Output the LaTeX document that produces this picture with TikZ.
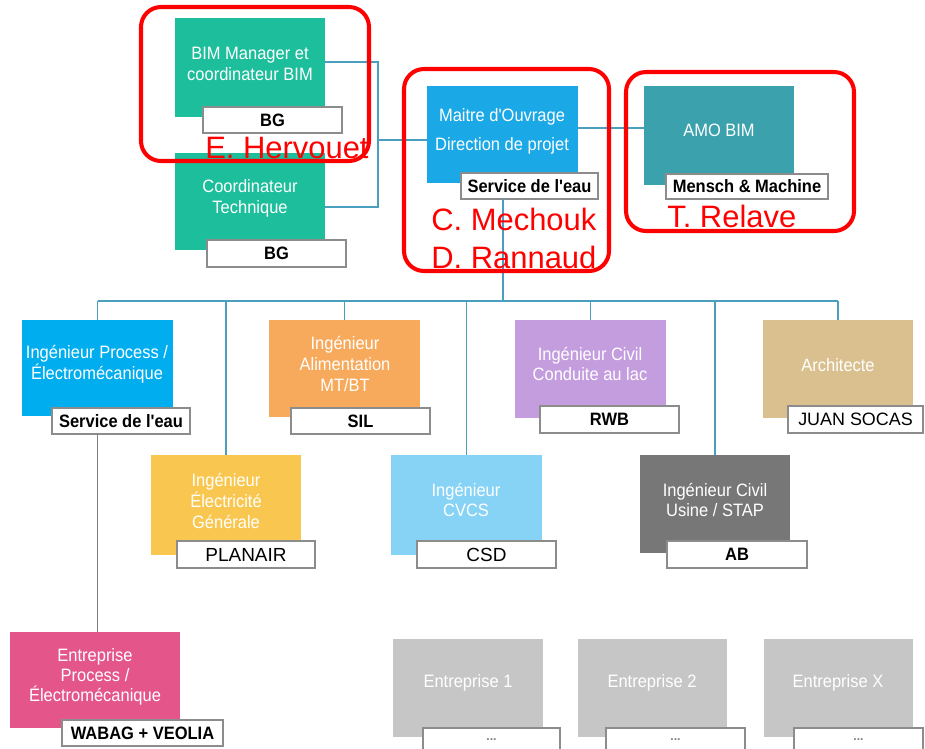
\documentclass[tikz,border=0pt]{standalone}
\usepackage{fontspec}
\setmainfont{Liberation Sans}
\newfontfamily\narrowf[FakeStretch=0.92]{Liberation Sans}
\usetikzlibrary{calc}
\definecolor{cbim}{RGB}{29,190,155}
\definecolor{cmo}{RGB}{26,169,230}
\definecolor{camo}{RGB}{59,161,173}
\definecolor{cproc}{RGB}{0,173,238}
\definecolor{calim}{RGB}{248,170,92}
\definecolor{celec}{RGB}{249,199,79}
\definecolor{ccvcs}{RGB}{134,211,245}
\definecolor{ccond}{RGB}{196,157,223}
\definecolor{cusine}{RGB}{119,119,119}
\definecolor{carch}{RGB}{219,192,143}
\definecolor{cep}{RGB}{228,86,138}
\definecolor{cent}{RGB}{198,198,198}
\definecolor{connblue}{RGB}{74,159,191}
\definecolor{lblgray}{RGB}{140,140,140}
\definecolor{redc}{RGB}{255,0,0}
\newcommand\orgbox[6]{\node[boxst, fill=#6, minimum width={(#3-#2)*0.02cm}, minimum height={(#5-#4)*0.02cm}] (#1) at (#2,#4) {};}
\newcommand\orglbl[7]{\node[#6, minimum width={(#3-#2)*0.02cm}, minimum height={(#5-#4)*0.02cm}] (#1) at (#2,#4) {#7};}
\tikzset{
  boxst/.style={inner sep=0pt, outer sep=0pt, anchor=north west, draw=none},
  lblst/.style={inner sep=0pt, outer sep=0pt, anchor=north west, fill=white, draw=lblgray, line width=0.7pt, text=black},
  lblb/.style={lblst, font=\narrowf\bfseries\fontsize{10.2}{12}\selectfont},
  lblr/.style={lblst, font=\fontsize{10.8}{12}\selectfont},
  lbls/.style={lblst, font=\fontsize{10.2}{12}\selectfont},
  lbld/.style={lblst, text=gray, font=\bfseries\fontsize{7}{8}\selectfont},
  txt/.style={text=white, align=center, font=\narrowf\fontsize{10.2}{11.9}\selectfont, inner sep=0pt},
  conn/.style={draw=connblue, line width=1pt},
  grayline/.style={draw=gray, line width=0.9pt},
  redframe/.style={draw=redc, line width=2.3pt, rounded corners=0.4cm, inner sep=0pt, outer sep=0pt, anchor=north west},
  redtxt/.style={text=redc, font=\fontsize{17.6}{20}\selectfont, anchor=base west, inner sep=0pt},
}
\begin{document}
\begin{tikzpicture}[x=0.02cm, y=-0.02cm]
\useasboundingbox (0,0) rectangle (925,748);
% boxes
\orgbox{bim}{175}{325}{18}{117}{cbim}
\orgbox{coord}{175}{325}{153}{250}{cbim}
\orgbox{mo}{427}{578}{86}{183}{cmo}
\orgbox{amo}{644}{794}{86}{185}{camo}
\orgbox{proc}{22}{173}{320}{416}{cproc}
\orgbox{alim}{269}{420}{320}{417}{calim}
\orgbox{cond}{515}{666}{320}{418}{ccond}
\orgbox{arch}{763}{913}{320}{418}{carch}
\orgbox{elec}{151}{301}{455}{555}{celec}
\orgbox{cvcs}{391}{542}{455}{555}{ccvcs}
\orgbox{usine}{640}{790}{455}{553}{cusine}
\orgbox{ep}{10}{180}{632}{728}{cep}
\orgbox{e1}{393}{543}{639}{737}{cent}
\orgbox{e2}{578}{727}{639}{737}{cent}
\orgbox{ex}{764}{913}{639}{737}{cent}
% box texts
\node[txt] (tbim) at (250,64) {BIM Manager et\\coordinateur BIM};
\node[txt] (tcoord) at (250,198) {Coordinateur\\Technique};
\node[txt, font=\narrowf\fontsize{10.2}{16.5}\selectfont] (tmo) at (502,131.5) {Maitre d'Ouvrage\\Direction de projet};
\node[txt] (tamo) at (719,130) {AMO BIM};
\node[txt, font=\narrowf\fontsize{10.2}{10.9}\selectfont] (tproc) at (97,364) {Ingénieur Process /\\Électromécanique};
\node[txt] (talim) at (345,364) {Ingénieur\\Alimentation\\MT/BT};
\node[txt] (tcond) at (590,364) {Ingénieur Civil\\Conduite au lac};
\node[txt] (tarch) at (838,365) {Architecte};
\node[txt] (telec) at (226,501) {Ingénieur\\Électricité\\Générale};
\node[txt] (tcvcs) at (466,500) {Ingénieur\\CVCS};
\node[txt] (tusine) at (715,500) {Ingénieur Civil\\Usine / STAP};
\node[txt, font=\narrowf\fontsize{10.2}{11.4}\selectfont] (tep) at (95,677) {Entreprise\\Process /\\Électromécanique};
\node[txt] (te1) at (468,683) {Entreprise 1};
\node[txt] (te2) at (652,683) {Entreprise 2};
\node[txt] (tex) at (838,683) {Entreprise X};
% labels
\orglbl{sbim}{203}{342}{107}{133}{lblb}{BG}
\orglbl{scoord}{207}{346}{240}{267}{lblb}{BG}
\orglbl{smo}{461}{598}{173}{199}{lblb}{Service de l'eau}
\orglbl{samo}{666}{828}{174}{199}{lblb}{Mensch \& Machine}
\orglbl{sproc}{52}{190}{408}{434}{lblb}{Service de l'eau}
\orglbl{salim}{291}{430}{408}{434}{lblb}{SIL}
\orglbl{scond}{540}{679}{406}{433}{lblb}{RWB}
\orglbl{sarch}{788}{923}{406}{433}{lbls}{JUAN SOCAS}
\orglbl{selec}{177}{315}{541}{568}{lblr}{PLANAIR}
\orglbl{scvcs}{417}{556}{541}{568}{lblr}{CSD}
\orglbl{susine}{667}{807}{541}{568}{lblb}{AB}
\orglbl{sep}{62}{223}{720}{746}{lblb}{WABAG + VEOLIA}
\orglbl{se1}{423}{560}{728}{752}{lbld}{...}
\orglbl{se2}{606}{745}{728}{752}{lbld}{...}
\orglbl{sex}{794}{923}{728}{752}{lbld}{...}
% connectors
\coordinate (jl) at (378,140);
\draw[conn] ($(bim.east)+(0,-5.5)$) -| (jl);
\draw[conn] (jl) |- ($(coord.east)+(0,5.5)$);
\draw[conn] (jl) -- (mo.west |- jl);
\draw[conn] ($(mo.east)+(0,-6.5)$) -- ($(amo.west)+(0,-7.5)$);
\coordinate (bus) at (503,301);
\draw[conn] (bus |- smo.south) -- (bus);
\draw[conn] (proc.north |- bus) -- (arch.north |- bus);
\foreach \n in {proc,alim,cond,arch,elec,cvcs,usine}
  \draw[conn] (\n.north |- bus) -- (\n.north);
\draw[grayline] (proc.south |- sproc.south) -- (proc.south |- ep.north);
% red frames
\node[redframe, minimum width={228*0.02cm}, minimum height={154*0.02cm}] (r1) at (141,7) {};
\node[redframe, minimum width={205*0.02cm}, minimum height={202*0.02cm}] (r2) at (404,69) {};
\node[redframe, minimum width={228*0.02cm}, minimum height={159*0.02cm}] (r3) at (626,72) {};
\node[redtxt] (n1) at (205,158) {E. Hervouet};
\node[redtxt] (n2) at (431,230) {C. Mechouk};
\node[redtxt] (n3) at (431,268) {D. Rannaud};
\node[redtxt] (n4) at (667,227) {T. Relave};
\end{tikzpicture}
\end{document}
